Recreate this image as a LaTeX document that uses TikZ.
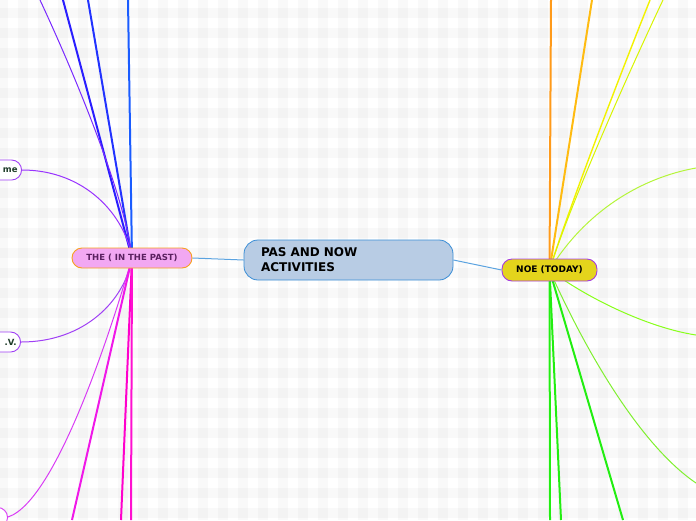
\documentclass[tikz,border=0pt]{standalone}
\usepackage{fontspec}
\setmainfont{DejaVu Sans}
\pgfdeclarelayer{bg}
\pgfsetlayers{bg,main}
\definecolor{cfill}{HTML}{B8CCE4}
\definecolor{cdraw}{HTML}{3B8ED6}
\definecolor{lfill}{HTML}{F2A8F2}
\definecolor{ldraw}{HTML}{F7A020}
\definecolor{ltext}{HTML}{5A2060}
\definecolor{rfill}{HTML}{E4D41C}
\definecolor{rdraw}{HTML}{A43BE0}
\definecolor{gtext}{HTML}{1E3C28}
\definecolor{linkblue}{HTML}{5BA3E0}
\definecolor{b1}{HTML}{1A5CFF}
\definecolor{b2}{HTML}{2233FF}
\definecolor{b3}{HTML}{2A1EFF}
\definecolor{p1}{HTML}{7A2AFF}
\definecolor{p2}{HTML}{9933FF}
\definecolor{p3}{HTML}{A040F5}
\definecolor{p4}{HTML}{D93CF5}
\definecolor{m1}{HTML}{F018E8}
\definecolor{m2}{HTML}{FF00CC}
\definecolor{m3}{HTML}{FF10D0}
\definecolor{o1}{HTML}{FF9A1A}
\definecolor{o2}{HTML}{FFBB11}
\definecolor{y1}{HTML}{F2F200}
\definecolor{y2}{HTML}{D8F500}
\definecolor{g1}{HTML}{B5F53A}
\definecolor{g2}{HTML}{88FF1A}
\definecolor{g3}{HTML}{80F030}
\definecolor{g4}{HTML}{22EE11}
\begin{document}
\begin{tikzpicture}[x=1pt,y=-1pt,
  mainbox/.style={rounded corners=14pt, line width=0.8pt, draw=cdraw, fill=cfill,
    font=\fontsize{12}{15}\selectfont\bfseries, text width=175pt, align=left,
    inner xsep=17pt, inner ysep=0pt, minimum height=40pt},
  subbox/.style={rounded corners=10pt, line width=0.9pt, inner sep=0pt,
    font=\fontsize{8.5}{10}\selectfont\bfseries},
  leafbox/.style={subbox, draw=p3, fill=white, text=gtext, minimum height=20pt,
    text width=50pt, align=right, inner xsep=4pt},
  wide/.style={line width=2pt},
  mid/.style={line width=1.4pt},
  thin/.style={line width=1pt}
]
\useasboundingbox (0,0) rectangle (696,520);
\clip (0,0) rectangle (696,520);

% nodes
\node[mainbox] (center) at (348.5,260) {PAS AND NOW\\ACTIVITIES};
\node[subbox, draw=ldraw, fill=lfill, text=ltext, minimum width=120pt, minimum height=20pt] (past) at (132,258) {THE ( IN THE PAST)};
\node[subbox, draw=rdraw, fill=rfill, text=black, minimum width=95pt, minimum height=22pt, font=\fontsize{9}{10}\selectfont\bfseries] (today) at (549.5,270) {NOE (TODAY)};
\node[leafbox, anchor=east] (me) at (22,170) {me};
\node[leafbox, anchor=east, draw=p3] (tv) at (21,342) {.V.};
\node[subbox, draw=p4, fill=white, minimum width=40pt, minimum height=20pt, anchor=north east] (low) at (8,507) {};

% free ends
\coordinate (tl1) at (128,0);
\coordinate (tl2) at (88,0);
\coordinate (tl3) at (63,0);
\coordinate (tl4) at (40,0);
\coordinate (bl1) at (72,520);
\coordinate (bl2) at (121,520);
\coordinate (bl3) at (131,520);
\coordinate (tr1) at (551,0);
\coordinate (tr2) at (592,0);
\coordinate (tr3) at (650,0);
\coordinate (tr4) at (663,0);
\coordinate (rr1) at (696,168);
\coordinate (rr2) at (696,335);
\coordinate (rr3) at (696,483);
\coordinate (br1) at (550,520);
\coordinate (br2) at (561,520);
\coordinate (br3) at (623,520);

\begin{pgfonlayer}{bg}
  \fill[white] (0,0) rectangle (696,520);
  \foreach \i in {0,...,35}{
    \fill[black, opacity=0.025] ({20*\i-2},0) rectangle ({20*\i+8},520);
  }
  \foreach \i in {0,...,26}{
    \fill[black, opacity=0.025] (0,{20*\i+8}) rectangle (696,{20*\i+18});
  }
  % central links
  \draw[linkblue, thin] (center.west) -- (past.east);
  \draw[linkblue, thin] (center.east) -- (today.west);
  % left hub
  \draw[b1, wide] (past.center) -- (tl1);
  \draw[b2, wide] (past.center) -- (tl2);
  \draw[b3, wide] (past.center) -- (tl3);
  \draw[p1, thin] (past.center) .. controls (127,205) and (82,90) .. (tl4);
  \draw[p2, thin] (me.east) .. controls (85,170) and (125,215) .. (past.center);
  \draw[p3, thin] (tv.east) .. controls (85,342) and (125,300) .. (past.center);
  \draw[p4, thin] (low.east |- 0,517) .. controls (60,500) and (120,300) .. (past.center);
  \draw[m1, wide] (past.center) -- (bl1);
  \draw[m2, wide] (past.center) -- (bl2);
  \draw[m3, wide] (past.center) -- (bl3);
  % right hub
  \draw[o1, wide] (today.center) -- (tr1);
  \draw[o2, wide] (today.center) -- (tr2);
  \draw[y1, mid] (today.center) .. controls (570,205) and (622,70) .. (tr3);
  \draw[y2, thin] (today.center) .. controls (568,210) and (625,80) .. (tr4);
  \draw[g1, thin] (today.center) .. controls (585,212) and (640,178) .. (rr1);
  \draw[g2, thin] (today.center) .. controls (590,300) and (650,328) .. (rr2);
  \draw[g3, thin] (today.center) .. controls (585,350) and (640,445) .. (rr3);
  \draw[g4, wide] (today.center) -- (br1);
  \draw[g4, wide] (today.center) -- (br2);
  \draw[g4, wide] (today.center) -- (br3);
\end{pgfonlayer}
\end{tikzpicture}
\end{document}
